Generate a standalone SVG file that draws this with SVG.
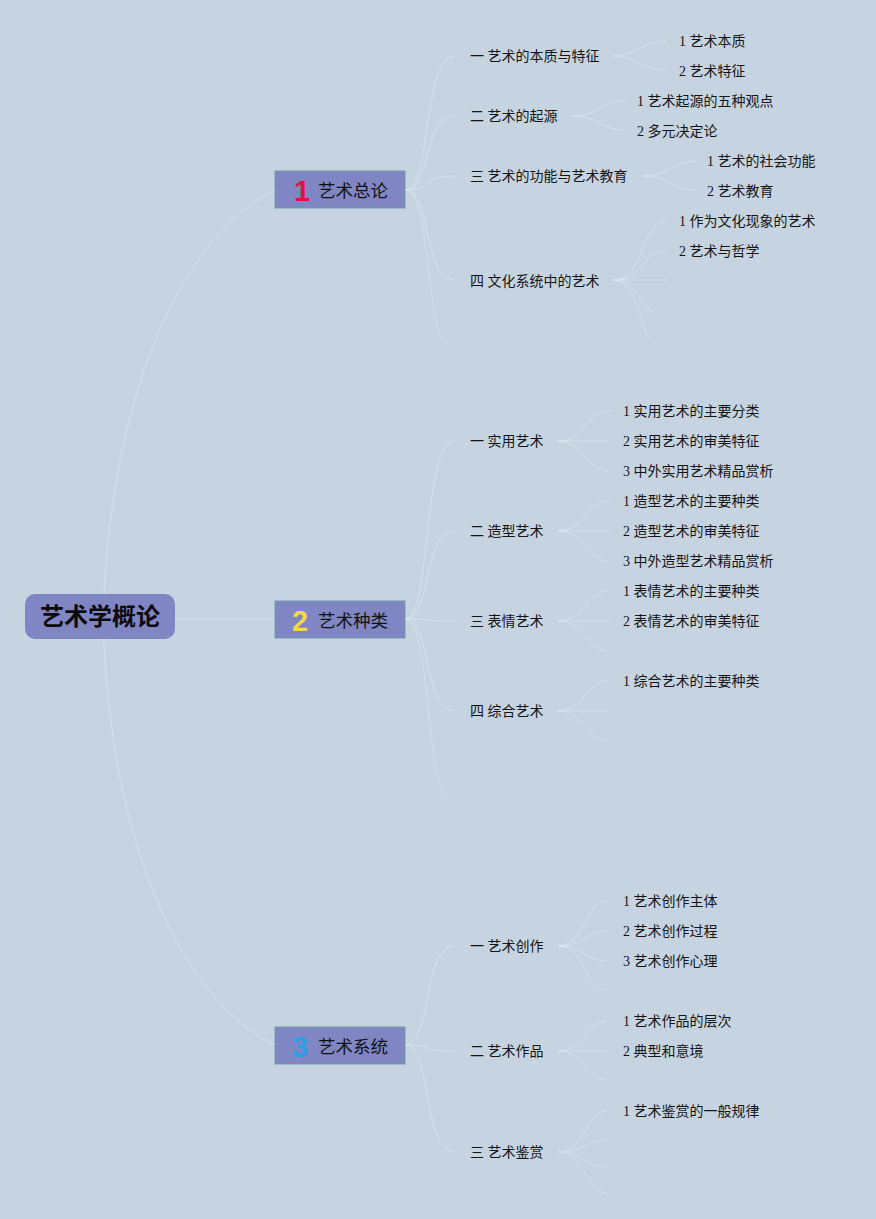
<svg xmlns="http://www.w3.org/2000/svg" width="876" height="1219" viewBox="0 0 876 1219">
<style>
.bg{fill:#c6d4e2}
.root{fill:#8085c4}
.br{fill:#8085c4;stroke:#6f9aa8;stroke-width:1}
.rt{font-family:"Noto Sans CJK SC","Noto Sans",sans-serif;font-size:24px;font-weight:bold;fill:#0a0a0a}
.bt{font-family:"Noto Sans CJK SC","Noto Sans",sans-serif;font-size:17.5px;fill:#111}
.num{font-family:"Liberation Sans",Arial,sans-serif;font-size:29px;font-weight:900}
.t{font-family:"Liberation Serif","Noto Sans CJK SC",serif;font-size:14px;fill:#151515}
.c{fill:none;stroke:#e4eaf1;stroke-width:1;opacity:0.6}
.cf{fill:none;stroke:#e4eaf1;stroke-width:1;opacity:0.45}
</style>
<rect class="bg" x="0" y="0" width="876" height="1219"/>
<g id="connectors">
<path class="c" d="M103,619 C110,380 190,230 275,190"/>
<path class="c" d="M103,619 C110,860 190,1005 275,1045"/>
<path class="c" d="M175,619 L275,619"/>
<path class="c" d="M405,190 C432,190 422,56 455,56"/>
<path class="c" d="M405,190 C432,190 422,116 455,116"/>
<path class="c" d="M405,190 C432,190 422,176 455,176"/>
<path class="c" d="M405,190 C432,190 422,280 455,280"/>
<path class="cf" d="M405,190 C432,190 425,345 450,345"/>
<path class="c" d="M405,619 C432,619 422,441 455,441"/>
<path class="c" d="M405,619 C432,619 422,531 455,531"/>
<path class="c" d="M405,619 C432,619 422,621 455,621"/>
<path class="c" d="M405,619 C432,619 422,711 455,711"/>
<path class="cf" d="M405,619 C432,619 425,797 450,797"/>
<path class="c" d="M405,1045 C432,1045 422,946 455,946"/>
<path class="c" d="M405,1045 C432,1045 422,1051 455,1051"/>
<path class="c" d="M405,1045 C432,1045 422,1152 455,1152"/>
<path class="c" d="M612,56 C640,56 640,41 667,41"/>
<path class="c" d="M612,56 C640,56 640,70 667,70"/>
<path class="c" d="M572,116 C600,116 600,101 626,101"/>
<path class="c" d="M572,116 C600,116 600,130 626,130"/>
<path class="c" d="M642,176 C670,176 670,161 696,161"/>
<path class="c" d="M642,176 C670,176 670,190 696,190"/>
<path class="c" d="M614,280 C645,280 640,221 667,221"/>
<path class="c" d="M614,280 C645,280 640,251 667,251"/>
<path class="cf" d="M614,280 L667,280"/>
<path class="cf" d="M614,280 C640,280 640,310 654,312"/>
<path class="cf" d="M614,280 C640,280 640,340 652,338"/>
<path class="c" d="M558,441 C585,441 585,411 610,411"/>
<path class="c" d="M558,441 L610,441"/>
<path class="c" d="M558,441 C585,441 585,471 610,471"/>
<path class="c" d="M558,531 C585,531 585,501 610,501"/>
<path class="c" d="M558,531 L610,531"/>
<path class="c" d="M558,531 C585,531 585,561 610,561"/>
<path class="c" d="M558,621 C585,621 585,591 610,591"/>
<path class="c" d="M558,621 L610,621"/>
<path class="cf" d="M558,621 C585,621 585,651 610,651"/>
<path class="c" d="M558,711 C585,711 585,681 610,681"/>
<path class="cf" d="M558,711 L610,711"/>
<path class="cf" d="M558,711 C585,711 585,741 610,741"/>
<path class="c" d="M558,946 C585,946 585,901 607,901"/>
<path class="c" d="M558,946 C585,946 585,931 607,931"/>
<path class="c" d="M558,946 C585,946 585,961 607,961"/>
<path class="cf" d="M558,946 C585,946 585,990 607,990"/>
<path class="c" d="M558,1051 C585,1051 585,1021 607,1021"/>
<path class="c" d="M558,1051 L607,1051"/>
<path class="cf" d="M558,1051 C585,1051 585,1080 607,1080"/>
<path class="c" d="M558,1152 C585,1152 585,1111 607,1111"/>
<path class="cf" d="M558,1152 C585,1152 585,1140 607,1140"/>
<path class="cf" d="M558,1152 C585,1152 585,1167 607,1167"/>
<path class="cf" d="M558,1152 C585,1152 585,1193 607,1193"/>
</g>
<g id="root">
<rect class="root" x="25" y="594" width="150" height="45" rx="10"/>
<text class="rt" x="100" y="625" text-anchor="middle">艺术学概论</text>
</g>
<g id="b1">
<rect class="br" x="275" y="171" width="130" height="37"/>
<text class="num" x="294" y="201" fill="#e0123e">1</text>
<text class="bt" x="318" y="197">艺术总论</text>
</g>
<g id="b2">
<rect class="br" x="275" y="601" width="130" height="37"/>
<text class="num" x="292" y="631" fill="#f2d84a">2</text>
<text class="bt" x="318" y="627">艺术种类</text>
</g>
<g id="b3">
<rect class="br" x="275" y="1027" width="130" height="37"/>
<text class="num" x="292" y="1057" fill="#2a9fe6">3</text>
<text class="bt" x="318" y="1053">艺术系统</text>
</g>
<g id="s1">
<text class="t" x="470" y="61">一 艺术的本质与特征</text>
<text class="t" x="679" y="46">1 艺术本质</text>
<text class="t" x="679" y="76">2 艺术特征</text>
<text class="t" x="470" y="121">二 艺术的起源</text>
<text class="t" x="637" y="106">1 艺术起源的五种观点</text>
<text class="t" x="637" y="136">2 多元决定论</text>
<text class="t" x="470" y="181">三 艺术的功能与艺术教育</text>
<text class="t" x="707" y="166">1 艺术的社会功能</text>
<text class="t" x="707" y="196">2 艺术教育</text>
<text class="t" x="470" y="286">四 文化系统中的艺术</text>
<text class="t" x="679" y="226">1 作为文化现象的艺术</text>
<text class="t" x="679" y="256">2 艺术与哲学</text>
</g>
<g id="s2">
<text class="t" x="470" y="446">一 实用艺术</text>
<text class="t" x="623" y="416">1 实用艺术的主要分类</text>
<text class="t" x="623" y="446">2 实用艺术的审美特征</text>
<text class="t" x="623" y="476">3 中外实用艺术精品赏析</text>
<text class="t" x="470" y="536">二 造型艺术</text>
<text class="t" x="623" y="506">1 造型艺术的主要种类</text>
<text class="t" x="623" y="536">2 造型艺术的审美特征</text>
<text class="t" x="623" y="566">3 中外造型艺术精品赏析</text>
<text class="t" x="470" y="626">三 表情艺术</text>
<text class="t" x="623" y="596">1 表情艺术的主要种类</text>
<text class="t" x="623" y="626">2 表情艺术的审美特征</text>
<text class="t" x="470" y="716">四 综合艺术</text>
<text class="t" x="623" y="686">1 综合艺术的主要种类</text>
</g>
<g id="s3">
<text class="t" x="470" y="951">一 艺术创作</text>
<text class="t" x="623" y="906">1 艺术创作主体</text>
<text class="t" x="623" y="936">2 艺术创作过程</text>
<text class="t" x="623" y="966">3 艺术创作心理</text>
<text class="t" x="470" y="1056">二 艺术作品</text>
<text class="t" x="623" y="1026">1 艺术作品的层次</text>
<text class="t" x="623" y="1056">2 典型和意境</text>
<text class="t" x="470" y="1157">三 艺术鉴赏</text>
<text class="t" x="623" y="1116">1 艺术鉴赏的一般规律</text>
</g>
</svg>
